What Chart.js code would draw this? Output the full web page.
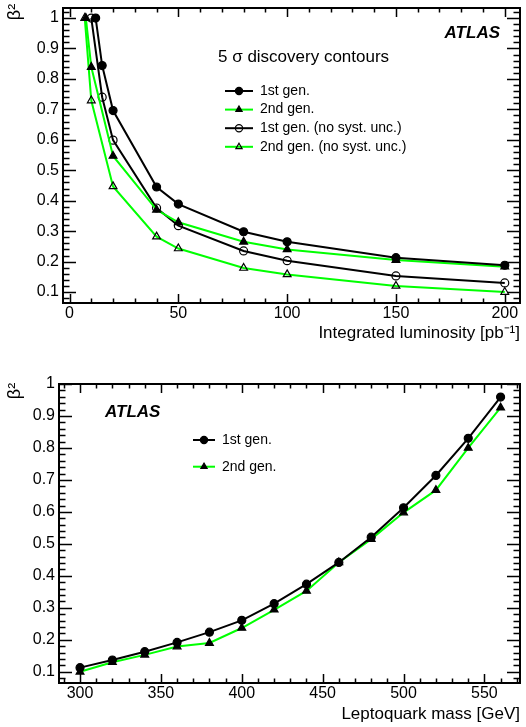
<!DOCTYPE html>
<html>
<head>
<meta charset="utf-8">
<script src="https://cdn.jsdelivr.net/npm/chart.js@4/dist/chart.umd.min.js"></script>
<style>
  body { margin: 0; background: #fff; }
  .panel { position: absolute; left: 0; }
  #top { top: 0; }
  #bottom { top: 345px; }
</style>
</head>
<body>
<div class="panel" id="top"><canvas id="lumiChart" width="526" height="345"></canvas></div>
<div class="panel" id="bottom"><canvas id="massChart" width="526" height="382"></canvas></div>
<script>
// Top panel: 5 sigma discovery contours vs integrated luminosity
const lumiFirst = [12, 15, 20, 40, 50, 80, 100, 150, 200];
const betaFirst = [1.0, 0.844, 0.696, 0.445, 0.389, 0.298, 0.265, 0.213, 0.188];
const lumiSecond = [7.5, 10, 20, 40, 50, 80, 100, 150, 200];
const betaSecond = [1.0, 0.839, 0.547, 0.370, 0.329, 0.265, 0.240, 0.205, 0.183];
const lumiFirstNoSyst = [10, 15, 20, 40, 50, 80, 100, 150, 200];
const betaFirstNoSyst = [1.0, 0.740, 0.599, 0.376, 0.318, 0.235, 0.203, 0.153, 0.130];
const lumiSecondNoSyst = [7, 10, 20, 40, 50, 80, 100, 150, 200];
const betaSecondNoSyst = [1.0, 0.729, 0.447, 0.282, 0.243, 0.179, 0.158, 0.120, 0.100];

// Bottom panel: beta^2 vs leptoquark mass
const massPoints = [300, 320, 340, 360, 380, 400, 420, 440, 460, 480, 500, 520, 540, 560];
const betaMassFirst = [0.113, 0.137, 0.163, 0.192, 0.224, 0.261, 0.313, 0.374, 0.442, 0.521, 0.613, 0.714, 0.830, 0.959];
const betaMassSecond = [0.100, 0.130, 0.153, 0.179, 0.190, 0.237, 0.294, 0.353, 0.442, 0.515, 0.598, 0.668, 0.800, 0.926];

const lumiLegend = ['1st gen.', '2nd gen.', '1st gen. (no syst. unc.)', '2nd gen. (no syst. unc.)'];
const massLegend = ['1st gen.', '2nd gen.'];

const FONT = "'Liberation Sans', Arial, sans-serif";
const GREEN = '#00ff00';

Chart.defaults.font.family = FONT;
Chart.defaults.color = '#000';

const toPoints = (xs, ys) => xs.map((x, i) => ({ x: x, y: ys[i] }));

function series(label, xs, ys, lineColor, style, filled, radius) {
    return {
        label: label,
        data: toPoints(xs, ys),
        borderColor: lineColor,
        borderWidth: 2,
        tension: 0,
        pointStyle: style,
        pointRadius: radius,
        pointBorderColor: '#000',
        pointBackgroundColor: filled ? '#000' : 'rgba(0,0,0,0)',
        pointBorderWidth: 1.2
    };
}

// Frame, inward ROOT-style ticks, legend and labels
const rootDecor = {
    id: 'rootDecor',
    afterDatasetsDraw(chart, args, o) {
        const { ctx, chartArea: a, scales: { x, y } } = chart;
        ctx.save();
        ctx.strokeStyle = '#000';
        ctx.lineWidth = 1.5;

        // x ticks on bottom and top edges
        for (let k = Math.ceil(x.min / o.xMinor); k * o.xMinor <= x.max; k++) {
            const px = Math.round(x.getPixelForValue(k * o.xMinor)) + 0.5;
            const len = k % o.xEvery === 0 ? 9 : 4.5;
            ctx.beginPath();
            ctx.moveTo(px, a.bottom); ctx.lineTo(px, a.bottom - len);
            ctx.moveTo(px, a.top); ctx.lineTo(px, a.top + len);
            ctx.stroke();
        }
        // y ticks on left and right edges
        for (let k = Math.ceil(y.min / 0.02 - 1e-6); k * 0.02 <= y.max + 1e-9; k++) {
            const py = Math.round(y.getPixelForValue(k * 0.02)) + 0.5;
            const len = k % 5 === 0 ? 13 : 6.5;
            ctx.beginPath();
            ctx.moveTo(a.left, py); ctx.lineTo(a.left + len, py);
            ctx.moveTo(a.right, py); ctx.lineTo(a.right - len, py);
            ctx.stroke();
        }
        ctx.lineWidth = 2;
        ctx.strokeRect(a.left, a.top, a.right - a.left, a.bottom - a.top);

        // beta^2 axis label, rotated
        ctx.fillStyle = '#000';
        ctx.save();
        ctx.translate(o.betaX, o.betaY);
        ctx.rotate(-Math.PI / 2);
        ctx.font = '18px ' + FONT;
        ctx.textAlign = 'center';
        ctx.textBaseline = 'middle';
        ctx.fillText('β²', 0, 0);
        ctx.restore();

        // ATLAS label
        ctx.font = 'italic bold 17px ' + FONT;
        ctx.textAlign = o.atlasAlign;
        ctx.textBaseline = 'middle';
        ctx.fillText('ATLAS', o.atlasX, o.atlasY);

        // legend header
        if (o.header) {
            ctx.font = '17px ' + FONT;
            ctx.textAlign = 'left';
            ctx.fillText(o.header, o.headerX, o.headerY);
        }

        // legend entries: line with marker, then text
        chart.data.datasets.forEach((ds, i) => {
            const ly = o.legendY + i * o.legendStep;
            ctx.strokeStyle = ds.borderColor;
            ctx.lineWidth = 2;
            ctx.beginPath();
            ctx.moveTo(o.legendX, ly); ctx.lineTo(o.legendX + o.legendLen, ly);
            ctx.stroke();
            ctx.strokeStyle = '#000';
            ctx.fillStyle = ds.pointBackgroundColor;
            ctx.lineWidth = 1.2;
            Chart.helpers.drawPoint(ctx, { pointStyle: ds.pointStyle, radius: 3.6, rotation: 0, borderWidth: 1.2 },
                o.legendX + o.legendLen / 2, ly);
            ctx.fillStyle = '#000';
            ctx.font = '14px ' + FONT;
            ctx.textAlign = 'left';
            ctx.fillText(ds.label, o.legendX + o.legendLen + 7, ly);
        });
        ctx.restore();
    }
};

function panelOptions(cfg) {
    return {
        responsive: false,
        animation: false,
        devicePixelRatio: 1,
        layout: { padding: { top: cfg.top, right: 6, left: 0, bottom: 0 } },
        plugins: {
            legend: { display: false },
            tooltip: { enabled: false },
            rootDecor: cfg.decor
        },
        scales: {
            x: {
                type: 'linear',
                min: cfg.xMin,
                max: cfg.xMax,
                grid: { display: false, drawTicks: false },
                border: { display: false },
                ticks: { stepSize: cfg.xStep, includeBounds: false, padding: 1, maxRotation: 0, font: { size: 16 } },
                title: { display: true, text: cfg.xTitle, align: 'end', font: { size: 17 }, padding: { top: 0, bottom: cfg.titlePad } },
                afterFit(s) { s.height = cfg.xHeight; s.paddingLeft = 0; s.paddingRight = 0; }
            },
            y: {
                min: cfg.yMin,
                max: cfg.yMax,
                grid: { display: false, drawTicks: false },
                border: { display: false },
                ticks: { stepSize: 0.1, includeBounds: false, padding: 4, font: { size: 16 },
                         callback: v => String(+v.toFixed(1)) },
                afterFit(s) { s.width = cfg.yWidth; s.paddingTop = 0; s.paddingBottom = 0; }
            }
        }
    };
}

document.addEventListener('DOMContentLoaded', () => {
    new Chart(document.getElementById('lumiChart'), {
        type: 'line',
        data: {
            datasets: [
                series(lumiLegend[0], lumiFirst, betaFirst, '#000', 'circle', true, 4),
                series(lumiLegend[1], lumiSecond, betaSecond, GREEN, 'triangle', true, 4.5),
                series(lumiLegend[2], lumiFirstNoSyst, betaFirstNoSyst, '#000', 'circle', false, 4),
                series(lumiLegend[3], lumiSecondNoSyst, betaSecondNoSyst, GREEN, 'triangle', false, 4.5)
            ]
        },
        options: panelOptions({
            top: 8, xMin: -3, xMax: 207, xStep: 50, yMin: 0.064, yMax: 1.033,
            xTitle: 'Integrated luminosity [pb⁻¹]', titlePad: 1, xHeight: 42, yWidth: 63,
            decor: {
                xMinor: 10, xEvery: 5, betaX: 15, betaY: 12,
                atlasAlign: 'right', atlasX: 500, atlasY: 33,
                header: '5 σ discovery contours', headerX: 218, headerY: 57,
                legendX: 225, legendLen: 28, legendY: 91, legendStep: 18.6
            }
        }),
        plugins: [rootDecor]
    });

    new Chart(document.getElementById('massChart'), {
        type: 'line',
        data: {
            datasets: [
                series(massLegend[0], massPoints, betaMassFirst, '#000', 'circle', true, 4),
                series(massLegend[1], massPoints, betaMassSecond, GREEN, 'triangle', true, 4.5)
            ]
        },
        options: panelOptions({
            top: 39, xMin: 287, xMax: 572, xStep: 50, yMin: 0.065, yMax: 1.0,
            xTitle: 'Leptoquark mass [GeV]', titlePad: 2, xHeight: 44, yWidth: 59,
            decor: {
                xMinor: 10, xEvery: 5, betaX: 15, betaY: 46,
                atlasAlign: 'left', atlasX: 105, atlasY: 67,
                header: null,
                legendX: 193, legendLen: 22, legendY: 95, legendStep: 26.7
            }
        }),
        plugins: [rootDecor]
    });
});
</script>
</body>
</html>
